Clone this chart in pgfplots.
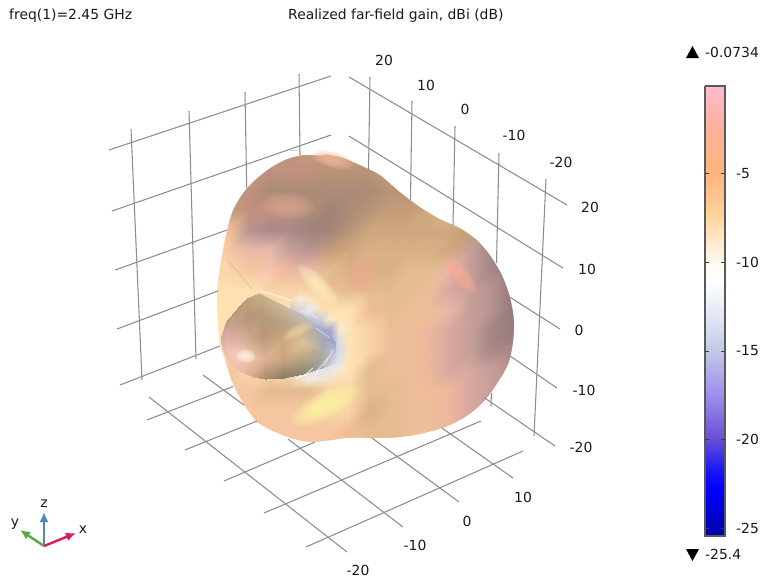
\documentclass[border=0pt]{standalone}
\usepackage{fontspec}
\setmainfont{DejaVu Sans}
\usepackage{pgfplots}
\pgfplotsset{compat=1.18}
\usetikzlibrary{arrows.meta}
\definecolor{a}{HTML}{A08478}\definecolor{b}{HTML}{AC8C78}\definecolor{c}{HTML}{B89476}
\definecolor{d}{HTML}{C49C78}\definecolor{e}{HTML}{CFA880}\definecolor{f}{HTML}{DAB288}
\definecolor{g}{HTML}{E4BC90}\definecolor{h}{HTML}{EEBE98}\definecolor{i}{HTML}{F6C6A0}
\definecolor{j}{HTML}{F8D4A6}\definecolor{k}{HTML}{FFE2B2}
\definecolor{m}{HTML}{E8B8A8}\definecolor{n}{HTML}{D8A8A0}\definecolor{o}{HTML}{C8A098}
\definecolor{p}{HTML}{B89490}\definecolor{q}{HTML}{A88888}\definecolor{r}{HTML}{987C80}
\definecolor{t}{HTML}{EDB79E}\definecolor{u}{HTML}{F5C6AE}\definecolor{v}{HTML}{C09080}
\definecolor{gridc}{HTML}{8C8C8C}
\definecolor{h1}{RGB}{245,185,160}\definecolor{h2}{RGB}{212,165,140}\definecolor{h3}{RGB}{238,172,142}
\definecolor{h4}{RGB}{252,170,150}\definecolor{h5}{RGB}{255,240,190}\definecolor{h6}{RGB}{255,247,160}
\definecolor{h7}{RGB}{255,250,232}\definecolor{h8}{RGB}{240,208,158}
\pgfplotsset{meshc/.style={surf,shader=interp,mesh/color input=explicit,point meta=explicit symbolic,forget plot},
 gl/.style={draw=gridc,line width=1.05pt,forget plot}}
\tikzset{tl/.style={font=\fontsize{13.9}{16}\selectfont,text=black!90,inner sep=0pt}}
% soft highlight: one point drawn as stacked translucent ellipses (#1 x, #2 y, #3 colour, #4 half length, #5 half width, #6 angle)
\newcommand\hlayer[7]{\addplot[only marks,forget plot,mark=*,mark size=#7pt,mark options={draw=#3,draw opacity=0,line width=0pt,fill=#3,fill opacity=0.17,rotate=#6,xscale=#4,yscale=#5}] coordinates {(#1,#2)};}
\newcommand\hl[6]{\hlayer{#1}{#2}{#3}{#4}{#5}{#6}{1}\hlayer{#1}{#2}{#3}{#4}{#5}{#6}{0.89}\hlayer{#1}{#2}{#3}{#4}{#5}{#6}{0.78}\hlayer{#1}{#2}{#3}{#4}{#5}{#6}{0.67}\hlayer{#1}{#2}{#3}{#4}{#5}{#6}{0.56}\hlayer{#1}{#2}{#3}{#4}{#5}{#6}{0.45}\hlayer{#1}{#2}{#3}{#4}{#5}{#6}{0.34}\hlayer{#1}{#2}{#3}{#4}{#5}{#6}{0.23}\hlayer{#1}{#2}{#3}{#4}{#5}{#6}{0.12}}
\begin{document}
\begin{tikzpicture}
\begin{axis}[width=760pt,height=579pt,scale only axis,xmin=0,xmax=760,ymin=0,ymax=579,y dir=reverse,hide axis,clip=false]
% body shading
\addplot[meshc,mesh/cols=17] table[row sep=\\,header=false,x index=0,y index=1,meta index=2]{
210 150 color=v\\230 150 color=v\\250 150 color=v\\270 150 color=v\\290 150 color=v\\310 150 color=d\\330 150 color=d\\350 150 color=d\\370 150 color=d\\390 150 color=d\\410 150 color=d\\430 150 color=d\\450 150 color=d\\470 150 color=d\\490 150 color=d\\510 150 color=d\\530 150 color=d\\
210 170 color=v\\230 170 color=v\\250 170 color=v\\270 170 color=v\\290 170 color=v\\310 170 color=v\\330 170 color=c\\350 170 color=c\\370 170 color=c\\390 170 color=d\\410 170 color=d\\430 170 color=d\\450 170 color=d\\470 170 color=d\\490 170 color=d\\510 170 color=d\\530 170 color=d\\
210 190 color=v\\230 190 color=v\\250 190 color=v\\270 190 color=b\\290 190 color=b\\310 190 color=b\\330 190 color=b\\350 190 color=b\\370 190 color=b\\390 190 color=c\\410 190 color=c\\430 190 color=d\\450 190 color=d\\470 190 color=d\\490 190 color=d\\510 190 color=d\\530 190 color=d\\
210 210 color=d\\230 210 color=d\\250 210 color=v\\270 210 color=v\\290 210 color=v\\310 210 color=b\\330 210 color=a\\350 210 color=b\\370 210 color=c\\390 210 color=d\\410 210 color=d\\430 210 color=e\\450 210 color=f\\470 210 color=f\\490 210 color=f\\510 210 color=f\\530 210 color=f\\
210 230 color=h\\230 230 color=h\\250 230 color=p\\270 230 color=q\\290 230 color=q\\310 230 color=a\\330 230 color=a\\350 230 color=c\\370 230 color=e\\390 230 color=e\\410 230 color=e\\430 230 color=e\\450 230 color=e\\470 230 color=d\\490 230 color=b\\510 230 color=a\\530 230 color=a\\
210 250 color=k\\230 250 color=i\\250 250 color=m\\270 250 color=m\\290 250 color=o\\310 250 color=p\\330 250 color=d\\350 250 color=e\\370 250 color=f\\390 250 color=f\\410 250 color=f\\430 250 color=f\\450 250 color=e\\470 250 color=o\\490 250 color=q\\510 250 color=r\\530 250 color=r\\
210 270 color=k\\230 270 color=j\\250 270 color=i\\270 270 color=u\\290 270 color=t\\310 270 color=m\\330 270 color=g\\350 270 color=f\\370 270 color=f\\390 270 color=f\\410 270 color=g\\430 270 color=g\\450 270 color=m\\470 270 color=o\\490 270 color=q\\510 270 color=r\\530 270 color=r\\
210 290 color=k\\230 290 color=k\\250 290 color=k\\270 290 color=j\\290 290 color=j\\310 290 color=j\\330 290 color=h\\350 290 color=g\\370 290 color=g\\390 290 color=g\\410 290 color=g\\430 290 color=h\\450 290 color=n\\470 290 color=o\\490 290 color=p\\510 290 color=r\\530 290 color=r\\
210 310 color=k\\230 310 color=k\\250 310 color=k\\270 310 color=k\\290 310 color=k\\310 310 color=k\\330 310 color=k\\350 310 color=k\\370 310 color=h\\390 310 color=g\\410 310 color=h\\430 310 color=h\\450 310 color=m\\470 310 color=o\\490 310 color=p\\510 310 color=r\\530 310 color=r\\
210 330 color=k\\230 330 color=k\\250 330 color=k\\270 330 color=k\\290 330 color=k\\310 330 color=k\\330 330 color=k\\350 330 color=k\\370 330 color=j\\390 330 color=h\\410 330 color=h\\430 330 color=t\\450 330 color=n\\470 330 color=o\\490 330 color=q\\510 330 color=r\\530 330 color=r\\
210 350 color=k\\230 350 color=k\\250 350 color=k\\270 350 color=k\\290 350 color=k\\310 350 color=k\\330 350 color=k\\350 350 color=k\\370 350 color=j\\390 350 color=h\\410 350 color=h\\430 350 color=t\\450 350 color=n\\470 350 color=o\\490 350 color=q\\510 350 color=q\\530 350 color=q\\
210 370 color=i\\230 370 color=i\\250 370 color=j\\270 370 color=j\\290 370 color=k\\310 370 color=k\\330 370 color=k\\350 370 color=k\\370 370 color=g\\390 370 color=h\\410 370 color=h\\430 370 color=t\\450 370 color=n\\470 370 color=n\\490 370 color=o\\510 370 color=p\\530 370 color=p\\
210 390 color=i\\230 390 color=i\\250 390 color=i\\270 390 color=g\\290 390 color=g\\310 390 color=g\\330 390 color=j\\350 390 color=j\\370 390 color=g\\390 390 color=g\\410 390 color=h\\430 390 color=h\\450 390 color=t\\470 390 color=n\\490 390 color=o\\510 390 color=p\\530 390 color=p\\
210 410 color=i\\230 410 color=i\\250 410 color=i\\270 410 color=i\\290 410 color=i\\310 410 color=j\\330 410 color=j\\350 410 color=j\\370 410 color=f\\390 410 color=g\\410 410 color=h\\430 410 color=h\\450 410 color=t\\470 410 color=n\\490 410 color=o\\510 410 color=o\\530 410 color=o\\
210 430 color=u\\230 430 color=i\\250 430 color=i\\270 430 color=i\\290 430 color=i\\310 430 color=i\\330 430 color=i\\350 430 color=h\\370 430 color=g\\390 430 color=g\\410 430 color=h\\430 430 color=h\\450 430 color=t\\470 430 color=t\\490 430 color=o\\510 430 color=o\\530 430 color=o\\
210 450 color=i\\230 450 color=i\\250 450 color=i\\270 450 color=i\\290 450 color=i\\310 450 color=i\\330 450 color=i\\350 450 color=h\\370 450 color=g\\390 450 color=g\\410 450 color=h\\430 450 color=h\\450 450 color=t\\470 450 color=t\\490 450 color=o\\510 450 color=o\\530 450 color=o\\
};
% the hollow round the lobe, finer
\addplot[meshc,mesh/cols=7] table[row sep=\\,header=false,x index=0,y index=1,meta index=2]{
290 290 rgb255=248,212,166\\300 290 rgb255=248,212,166\\310 290 rgb255=248,212,166\\320 290 rgb255=243,201,159\\330 290 rgb255=238,190,152\\340 290 rgb255=233,188,148\\350 290 rgb255=228,188,144\\
290 300 rgb255=250,218,172\\300 300 rgb255=248,235,215\\310 300 rgb255=252,228,195\\320 300 rgb255=253,222,172\\330 300 rgb255=250,212,165\\340 300 rgb255=245,208,160\\350 300 rgb255=241,207,161\\
290 310 rgb255=205,200,195\\300 310 rgb255=215,215,220\\310 310 rgb255=235,235,240\\320 310 rgb255=248,225,190\\330 310 rgb255=253,225,175\\340 310 rgb255=255,226,178\\350 310 rgb255=255,226,178\\
290 320 rgb255=190,190,190\\300 320 rgb255=190,195,205\\310 320 rgb255=190,195,215\\320 320 rgb255=200,205,225\\330 320 rgb255=250,232,200\\340 320 rgb255=255,230,186\\350 320 rgb255=255,226,178\\
290 330 rgb255=180,180,175\\300 330 rgb255=170,172,180\\310 330 rgb255=165,170,190\\320 330 rgb255=160,165,200\\330 330 rgb255=165,170,205\\340 330 rgb255=250,235,205\\350 330 rgb255=255,226,178\\
290 340 rgb255=170,170,165\\300 340 rgb255=170,170,175\\310 340 rgb255=170,172,185\\320 340 rgb255=170,172,190\\330 340 rgb255=150,155,210\\340 340 rgb255=225,225,225\\350 340 rgb255=255,226,178\\
290 350 rgb255=180,180,180\\300 350 rgb255=185,188,195\\310 350 rgb255=185,190,205\\320 350 rgb255=185,190,210\\330 350 rgb255=180,185,215\\340 350 rgb255=215,218,228\\350 350 rgb255=255,226,178\\
290 360 rgb255=200,200,205\\300 360 rgb255=200,205,215\\310 360 rgb255=195,200,215\\320 360 rgb255=190,195,210\\330 360 rgb255=205,210,225\\340 360 rgb255=225,225,230\\350 360 rgb255=255,226,178\\
290 370 rgb255=225,225,228\\300 370 rgb255=225,225,228\\310 370 rgb255=225,225,228\\320 370 rgb255=225,228,235\\330 370 rgb255=232,232,232\\340 370 rgb255=245,235,215\\350 370 rgb255=255,226,178\\
290 380 rgb255=241,207,161\\300 380 rgb255=240,222,200\\310 380 rgb255=246,236,224\\320 380 rgb255=240,228,212\\330 380 rgb255=245,225,195\\340 380 rgb255=248,222,178\\350 380 rgb255=251,219,172\\
290 390 rgb255=228,188,144\\300 390 rgb255=228,188,144\\310 390 rgb255=228,188,144\\320 390 rgb255=238,200,155\\330 390 rgb255=248,212,166\\340 390 rgb255=248,212,166\\350 390 rgb255=248,212,166\\
};
% highlights on the body
\hl{333}{160}{h1}{22}{8}{-14}
\hl{287}{206}{h2}{28}{13}{-4}
\hl{362}{274}{h3}{14}{19}{-10}
\hl{460}{275}{h4}{24}{9}{-50}
\hl{318}{285}{h5}{28}{9}{-45}
\hl{326}{405}{h6}{38}{13}{28}
% white surround that gives the body its outline
\addplot[fill=white,draw=none,forget plot,even odd rule,smooth] coordinates {
(320,154)(340,157)(360,165)(380,175)(400,192)(420,207)(440,219)(460,228)(477,240)(490,255)(502,275)(510,297)(514,320)(513,343)(507,367)(487,398)(467,416)(443,428)(415,435)(390,438)(365,438)(347,438)(333,440)(313,442)(297,440)(277,433)(257,422)(243,403)(232,382)(225,360)(220,345)(218,325)(217,290)(221,260)(227,230)(233,210)(243,193)(255,180)(270,168)(287,159)(303,155)(320,154)
(nan,nan)
(195,135)(545,135)(545,465)(195,465)(195,135)
};
% lobe
\addplot[meshc,mesh/cols=5] table[row sep=\\,header=false,x index=0,y index=1,meta index=2]{
222 336 rgb255=215,172,162\\221.5 338 rgb255=215,172,162\\221.5 341 rgb255=218,174,164\\222 344 rgb255=225,178,168\\222 348 rgb255=234,186,174\\
227 322 rgb255=190,152,130\\227 332 rgb255=210,168,155\\227 342 rgb255=226,180,170\\228 352 rgb255=242,196,182\\230 363 rgb255=240,194,176\\
237 310 rgb255=184,152,120\\238 325 rgb255=196,158,138\\239 340 rgb255=222,175,160\\240 356 rgb255=246,204,188\\242 372 rgb255=234,186,162\\
247 299 rgb255=190,160,120\\249 318 rgb255=180,150,122\\250 338 rgb255=205,165,140\\252 358 rgb255=240,194,168\\254 377 rgb255=208,168,138\\
260 294 rgb255=200,175,135\\262 315 rgb255=180,155,120\\263 336 rgb255=186,150,120\\265 358 rgb255=222,178,150\\266 379 rgb255=170,140,110\\
282 305 rgb255=205,185,155\\283 323 rgb255=184,160,128\\283 341 rgb255=205,170,125\\284 360 rgb255=200,165,130\\284 378 rgb255=140,125,100\\
302 315 rgb255=195,190,185\\303 329 rgb255=195,180,150\\303 344 rgb255=222,195,150\\303 359 rgb255=185,165,130\\303 374 rgb255=140,135,115\\
322 330 rgb255=165,172,200\\322 339 rgb255=165,170,180\\322 349 rgb255=175,172,165\\322 358 rgb255=168,168,152\\322 368 rgb255=170,172,170\\
335 342 rgb255=155,160,208\\335 347 rgb255=170,175,212\\335 352 rgb255=188,192,220\\335 357 rgb255=200,205,225\\335 363 rgb255=218,220,230\\
};
\hl{246}{356}{h7}{10}{7}{-10}
\hl{298}{331}{h8}{17}{6}{28}
% crease and fine streaks
\addplot[draw={rgb,255:red,205;green,170;blue,130},line width=0.8pt,opacity=0.45,forget plot] coordinates {(227,260)(238,272)(252,289)};
\addplot[draw=white,line width=1.6pt,opacity=0.55,forget plot] coordinates {(260,291)(275,295)(292,301)};
\addplot[draw=white,line width=0.9pt,opacity=0.75,forget plot] coordinates {(304,376)(313,368)};
\addplot[draw=white,line width=0.9pt,opacity=0.75,forget plot] coordinates {(295,379)(307,374)};
\addplot[draw=white,line width=0.8pt,opacity=0.6,forget plot] coordinates {(316,372)(328,358)};
\addplot[draw=white,line width=0.8pt,opacity=0.6,forget plot] coordinates {(324,366)(333,350)};
\addplot[draw=white,line width=0.7pt,opacity=0.5,forget plot] coordinates {(330,338)(316,328)};
\addplot[draw=white,line width=0.7pt,opacity=0.5,forget plot] coordinates {(318,318)(300,310)};
% grid: left wall
\addplot[gl] coordinates {(109,150)(331,76)};
\addplot[gl] coordinates {(112,211)(331,135)};
\addplot[gl] coordinates {(115,270)(227,230)};
\addplot[gl] coordinates {(117,329)(218,291)};
\addplot[gl] coordinates {(120,385)(220,346)};
\addplot[gl] coordinates {(131,129)(142,380)};
\addplot[gl] coordinates {(189,111)(196,359)};
\addplot[gl] coordinates {(245,92)(246.7,188)};
\addplot[gl] coordinates {(299,74)(300,155)};
% right wall
\addplot[gl] coordinates {(370,77)(368.5,170)};
\addplot[gl] coordinates {(412,101)(410.5,200)};
\addplot[gl] coordinates {(455,126)(453,225)};
\addplot[gl] coordinates {(499,153)(496.5,263)};
\addplot[gl] coordinates {(491.4,393)(491,406)};
\addplot[gl] coordinates {(546,179)(534,436)};
\addplot[gl] coordinates {(349,77)(567,205)};
\addplot[gl] coordinates {(349,136)(563,268)};
\addplot[gl] coordinates {(508,296)(560,329)};
\addplot[gl] coordinates {(510,356)(557,388)};
\addplot[gl] coordinates {(484,397.5)(555,446)};
% floor
\addplot[gl] coordinates {(149,397)(347,552)};
\addplot[gl] coordinates {(203,375)(244,405)};
\addplot[gl] coordinates {(288,439)(403,527)};
\addplot[gl] coordinates {(372,438)(459,502)};
\addplot[gl] coordinates {(442,428)(513,478)};
\addplot[gl] coordinates {(306,547)(523,451)};
\addplot[gl] coordinates {(264,513)(481,421)};
\addplot[gl] coordinates {(224,481)(315,442)};
\addplot[gl] coordinates {(185,450)(257,421)};
\addplot[gl] coordinates {(147,420)(233,386.5)};
% tick labels
\node[tl] at (axis cs:384,60) {20};\node[tl] at (axis cs:426,85) {10};\node[tl] at (axis cs:465,109) {0};\node[tl] at (axis cs:514,135) {-10};\node[tl] at (axis cs:561,162) {-20};
\node[tl] at (axis cs:590,207) {20};\node[tl] at (axis cs:587,269) {10};\node[tl] at (axis cs:579,330) {0};\node[tl] at (axis cs:584,390) {-10};\node[tl] at (axis cs:581,447) {-20};
\node[tl] at (axis cs:523,497) {10};\node[tl] at (axis cs:467,521) {0};\node[tl] at (axis cs:415,545) {-10};\node[tl] at (axis cs:358,570) {-20};
% titles
\node[tl,anchor=base west] at (axis cs:9,19.5) {freq(1)=2.45 GHz};
\node[tl,anchor=base west] at (axis cs:288,19.5) {Realized far-field gain, dBi (dB)};
% colour bar
\addplot[meshc,mesh/cols=2] table[row sep=\\,header=false,x index=0,y index=1,meta index=2]{
705 86 rgb255=255,188,204\\725 86 rgb255=255,188,204\\
705 130 rgb255=255,176,154\\725 130 rgb255=255,176,154\\
705 173 rgb255=253,181,126\\725 173 rgb255=253,181,126\\
705 215 rgb255=255,210,154\\725 215 rgb255=255,210,154\\
705 245 rgb255=255,237,210\\725 245 rgb255=255,237,210\\
705 262 rgb255=255,248,238\\725 262 rgb255=255,248,238\\
705 280 rgb255=255,255,255\\725 280 rgb255=255,255,255\\
705 315 rgb255=226,232,245\\725 315 rgb255=226,232,245\\
705 351 rgb255=195,200,232\\725 351 rgb255=195,200,232\\
705 395 rgb255=156,144,236\\725 395 rgb255=156,144,236\\
705 439 rgb255=106,79,216\\725 439 rgb255=106,79,216\\
705 470 rgb255=24,24,248\\725 470 rgb255=24,24,248\\
705 490 rgb255=0,0,255\\725 490 rgb255=0,0,255\\
705 536 rgb255=0,0,168\\725 536 rgb255=0,0,168\\
};
\addplot[draw=black!65,line width=1.4pt,forget plot] coordinates {(705,86)(725,86)(725,536)(705,536)(705,86)};
\addplot[draw=black!75,line width=0.8pt,forget plot] coordinates {(705,173)(709,173)};
\addplot[draw=black!75,line width=0.8pt,forget plot] coordinates {(721,173)(725,173)};
\addplot[draw=black!75,line width=0.8pt,forget plot] coordinates {(705,262)(709,262)};
\addplot[draw=black!75,line width=0.8pt,forget plot] coordinates {(721,262)(725,262)};
\addplot[draw=black!75,line width=0.8pt,forget plot] coordinates {(705,351)(709,351)};
\addplot[draw=black!75,line width=0.8pt,forget plot] coordinates {(721,351)(725,351)};
\addplot[draw=black!75,line width=0.8pt,forget plot] coordinates {(705,439)(709,439)};
\addplot[draw=black!75,line width=0.8pt,forget plot] coordinates {(721,439)(725,439)};
\addplot[draw=black!75,line width=0.8pt,forget plot] coordinates {(705,528)(709,528)};
\addplot[draw=black!75,line width=0.8pt,forget plot] coordinates {(721,528)(725,528)};
\node[tl,anchor=west] at (axis cs:736,173.5) {-5};\node[tl,anchor=west] at (axis cs:736,262) {-10};\node[tl,anchor=west] at (axis cs:736,351) {-15};\node[tl,anchor=west] at (axis cs:736,439) {-20};\node[tl,anchor=west] at (axis cs:736,528) {-25};
\addplot[fill=black,draw=none,forget plot] coordinates {(686,58)(699,58)(692.5,46)};
\addplot[fill=black,draw=none,forget plot] coordinates {(686,549)(699,549)(692.5,561)};
\node[tl,anchor=west] at (axis cs:705,52) {-0.0734};
\node[tl,anchor=west] at (axis cs:705,554) {-25.4};
% triad
\addplot[draw={rgb,255:red,79;green,134;blue,190},line width=2.4pt,-{Latex[length=10pt,width=9pt]},forget plot] coordinates {(44,546)(44,512)};
\addplot[draw={rgb,255:red,216;green,27;blue,96},line width=2.4pt,-{Latex[length=10pt,width=9pt]},forget plot] coordinates {(44,546)(76,533)};
\addplot[draw={rgb,255:red,85;green,170;blue,68},line width=2.4pt,-{Latex[length=10pt,width=9pt]},forget plot] coordinates {(44,546)(20,530)};
\node[tl] at (axis cs:44,504) {z};\node[tl] at (axis cs:83,530) {x};\node[tl] at (axis cs:15,524) {y};
\addplot[draw=none,forget plot] coordinates {(0,0)(760,579)};
\end{axis}
\end{tikzpicture}
\end{document}
